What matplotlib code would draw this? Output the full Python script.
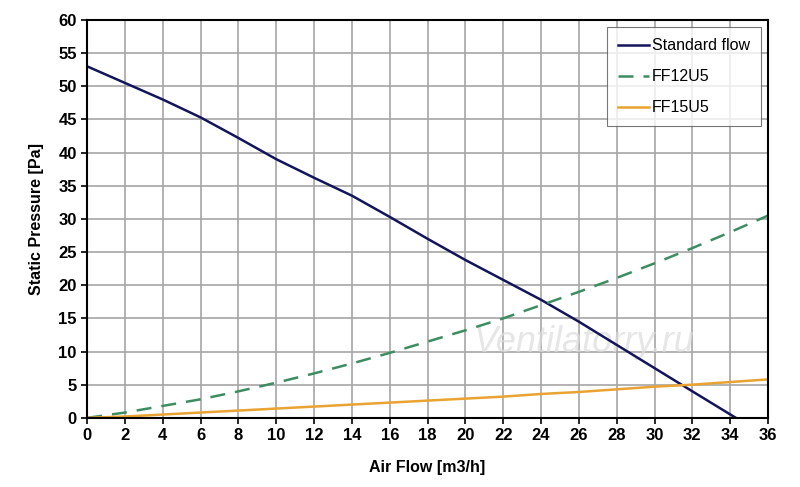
import matplotlib
matplotlib.use("Agg")
import matplotlib.pyplot as plt
import numpy as np

plt.rcParams['font.family'] = ['Liberation Sans', 'DejaVu Sans']

# curves
std_x = [0, 2, 4, 6, 8, 10, 12, 14, 16, 18, 20, 22, 24, 26, 28, 30, 32, 34.3]
std_y = [53, 50.5, 48, 45.3, 42.2, 39, 36.2, 33.5, 30.3, 27, 23.8, 20.8, 17.8, 14.5, 11, 7.5, 4, 0]

ff_x = [0, 2, 4, 6, 8, 10, 12, 14, 16, 18, 20, 22, 24, 26, 28, 30, 32, 34, 36]
ff12_y = [0, 0.8, 1.8, 2.8, 4.0, 5.3, 6.7, 8.2, 9.8, 11.5, 13.2, 15.0, 17.0, 19.0, 21.1, 23.3, 25.6, 28.0, 30.5]
ff15_y = [0, 0.2, 0.5, 0.8, 1.1, 1.4, 1.7, 2.0, 2.3, 2.6, 2.9, 3.2, 3.6, 3.9, 4.3, 4.7, 5.0, 5.4, 5.8]

fig = plt.figure(figsize=(8, 4.87), dpi=100)
ax = fig.add_axes([0.109, 0.142, 0.851, 0.817])

ax.plot(std_x, std_y, color='#14145a', lw=1.8, label='Standard flow')
ax.plot(ff_x, ff12_y, color='#3d8c62', lw=1.8, ls=(0, (6, 4)), label='FF12U5')
ax.plot(ff_x, ff15_y, color='#e9a333', lw=1.8, label='FF15U5')

ax.set_xlim(0, 36)
ax.set_ylim(0, 60)
ax.set_xticks(np.arange(0, 37, 2))
ax.set_yticks(np.arange(0, 61, 5))
ax.grid(True, color='#a6a6a6', lw=1.2)
ax.set_axisbelow(True)
for s in ax.spines.values():
    s.set_linewidth(1.5)
    s.set_color('black')
ax.tick_params(direction='out', length=4, width=1.2, labelsize=12)
for lab in ax.get_xticklabels() + ax.get_yticklabels():
    lab.set_fontweight('bold')

ax.set_xlabel('Air Flow [m3/h]', fontsize=11.5, fontweight='bold', labelpad=12)
ax.set_ylabel('Static Pressure [Pa]', fontsize=11.5, fontweight='bold', labelpad=10)

leg = ax.legend(loc='upper right', bbox_to_anchor=(0.99, 0.982), borderaxespad=0,
                fontsize=11.5, frameon=True, fancybox=False, edgecolor='#555555',
                handlelength=1.9, labelspacing=1.0, borderpad=0.7, handletextpad=0.2)
leg.get_frame().set_linewidth(0.8)

ax.text(0.73, 0.19, 'Ventilatorry.ru', transform=ax.transAxes, fontsize=26,
        style='italic', color='#dcdcdc', alpha=0.7, ha='center', va='center', zorder=1)

fig.savefig('out.png', dpi=100)
